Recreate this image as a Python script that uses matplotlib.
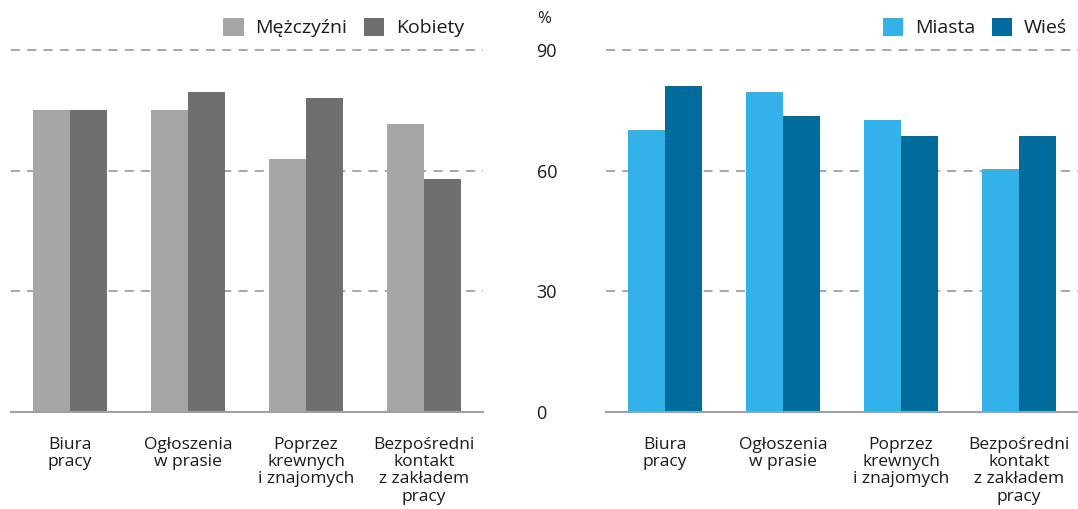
import matplotlib.pyplot as plt
import numpy as np

# === Data ===
categories = ["Biura\npracy", "Ogłoszenia\nw prasie", "Poprzez\nkrewnych\ni znajomych",
              "Bezpośredni\nkontakt\nz zakładem\npracy"]
men = [75, 75, 63, 71.5]
women = [75, 79.5, 78, 58]
cities = [70, 79.5, 72.5, 60.5]
villages = [81, 73.5, 68.5, 68.5]
yticks = [0, 30, 60, 90]

plt.rcParams["font.family"] = ["Open Sans", "DejaVu Sans"]
TXT = "#1a1a1a"
GRID = "#a0a0a0"

W, H = 1078, 509
fig = plt.figure(figsize=(W / 100, H / 100), dpi=100)

ax1 = fig.add_axes([11 / W, 97 / H, 472 / W, 362 / H])
ax2 = fig.add_axes([606 / W, 97 / H, 472 / W, 362 / H])

x = np.arange(len(categories))
bw = 0.313


def style_axes(ax, show_y):
    ax.set_xlim(-0.5, 3.5)
    ax.set_ylim(0, 90)
    for s in ["top", "right", "left"]:
        ax.spines[s].set_visible(False)
    ax.spines["bottom"].set_color(GRID)
    ax.spines["bottom"].set_linewidth(1.5)
    for v in yticks[1:]:
        ax.axhline(v, color=GRID, lw=1.3, ls=(0, (5, 4)), zorder=0, clip_on=False)
    ax.set_xticks(x)
    ax.set_xticklabels(categories, fontsize=12.5, color=TXT, linespacing=1.1, va="top")
    ax.tick_params(axis="x", length=0, pad=18)
    ax.set_yticks(yticks)
    if show_y:
        ax.set_yticklabels([str(v) for v in yticks], fontsize=13, color=TXT)
        for lab in ax.get_yticklabels():
            lab.set_ha("left")
        ax.tick_params(axis="y", length=0, pad=50)
    else:
        ax.set_yticklabels([])
        ax.tick_params(axis="y", length=0)


leg_kw = dict(ncol=2, frameon=False, fontsize=14, handlelength=1.05, handleheight=1.05,
              handletextpad=0.6, columnspacing=0.85, borderpad=0, borderaxespad=0,
              labelcolor=TXT)

# === Left panel ===
ax1.bar(x - bw / 2, men, bw, color="#a6a6a6", label="Mężczyźni", zorder=2)
ax1.bar(x + bw / 2, women, bw, color="#706f6e", label="Kobiety", zorder=2)
style_axes(ax1, False)
ax1.legend(loc="center right", bbox_to_anchor=(453 / 472, 1.062), **leg_kw)

# === Right panel ===
ax2.bar(x - bw / 2, cities, bw, color="#33b2e9", label="Miasta", zorder=2)
ax2.bar(x + bw / 2, villages, bw, color="#006c9b", label="Wieś", zorder=2)
style_axes(ax2, True)
ax2.legend(loc="center left", bbox_to_anchor=(277 / 472, 1.062), **leg_kw)

fig.text(537 / W, 1 - 19 / H, "%", ha="left", va="center", fontsize=12, color=TXT)

fig.savefig("out.png", dpi=100)
